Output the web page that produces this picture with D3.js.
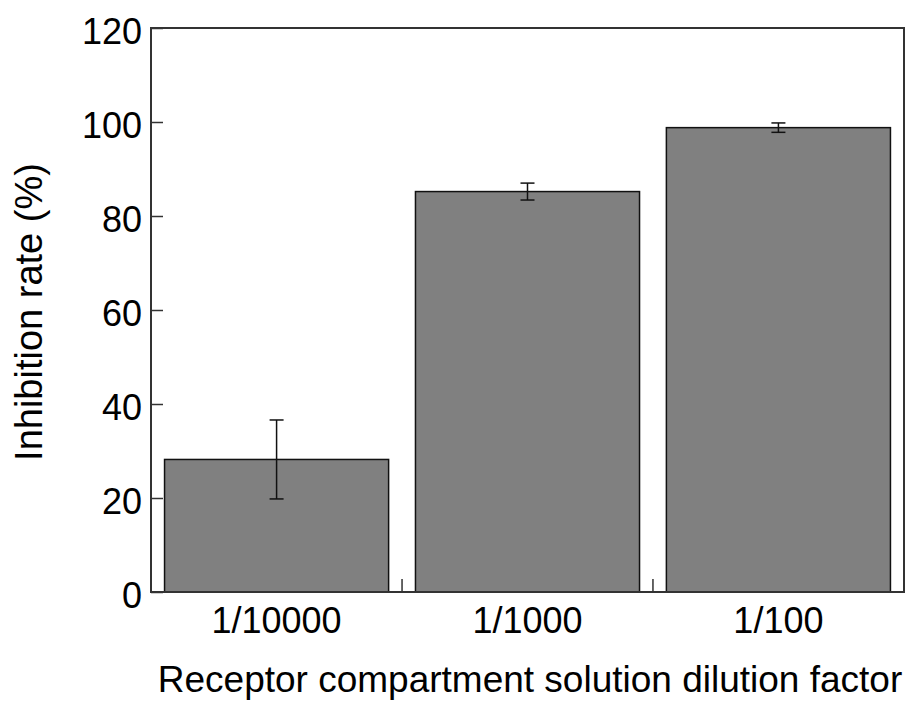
<!DOCTYPE html>
<meta charset="utf-8">
<style>
  body { margin: 0; background: #fff; }
  text { font-family: "Liberation Sans", Arial, Helvetica, sans-serif; fill: #000; }
  .bar { fill: #808080; stroke: #111; stroke-width: 1.5; }
  .err { stroke: #111; stroke-width: 1.5; fill: none; }
  .frame { fill: none; stroke: #333; stroke-width: 2; }
</style>
<body>
<div id="chart"></div>
<script src="https://cdn.jsdelivr.net/npm/d3@7"></script>
<script>
  var categories = ["1/10000", "1/1000", "1/100"],
      values = [28.2, 85.2, 98.8],
      errors = [8.4, 1.8, 1.0],
      yTicks = [0, 20, 40, 60, 80, 100, 120];

  var width = 909, height = 704,
      margin = {top: 28, right: 5, bottom: 112, left: 151},
      w = width - margin.left - margin.right,
      h = height - margin.top - margin.bottom;

  var svg = d3.select("#chart").append("svg")
      .attr("width", width)
      .attr("height", height);

  var g = svg.append("g")
      .attr("transform", "translate(" + margin.left + "," + margin.top + ")");

  var x = d3.scaleBand()
      .domain(categories)
      .range([0, w])
      .paddingInner(0.107)
      .paddingOuter(0.054);

  var y = d3.scaleLinear()
      .domain([0, 120])
      .range([h, 0]);

  // bars
  g.selectAll("rect.bar")
      .data(values)
    .enter().append("rect")
      .attr("class", "bar")
      .attr("x", function(d, i) { return x(categories[i]); })
      .attr("y", function(d) { return y(d); })
      .attr("width", x.bandwidth())
      .attr("height", function(d) { return h - y(d); });

  // error bars
  var eb = g.selectAll("g.eb")
      .data(values)
    .enter().append("g")
      .attr("class", "eb")
      .attr("transform", function(d, i) {
        return "translate(" + (x(categories[i]) + x.bandwidth() / 2) + ",0)";
      });

  eb.append("line").attr("class", "err")
      .attr("x1", 0).attr("x2", 0)
      .attr("y1", function(d, i) { return y(d + errors[i]); })
      .attr("y2", function(d, i) { return y(d - errors[i]); });
  eb.append("line").attr("class", "err")
      .attr("x1", -7).attr("x2", 7)
      .attr("y1", function(d, i) { return y(d + errors[i]); })
      .attr("y2", function(d, i) { return y(d + errors[i]); });
  eb.append("line").attr("class", "err")
      .attr("x1", -7).attr("x2", 7)
      .attr("y1", function(d, i) { return y(d - errors[i]); })
      .attr("y2", function(d, i) { return y(d - errors[i]); });

  // y axis
  var yAxis = g.append("g")
      .call(d3.axisLeft(y).tickValues(yTicks).tickSizeInner(-12).tickSizeOuter(0).tickPadding(9));
  yAxis.select(".domain").remove();
  yAxis.selectAll(".tick line").attr("stroke", "#333").attr("stroke-width", 1.5);
  yAxis.selectAll(".tick text")
      .attr("font-size", 36)
      .attr("dy", "0.42em")
      .attr("font-family", "Liberation Sans, Arial, sans-serif")
      .attr("fill", "#000");

  // x ticks between bands
  var step = x.step();
  var seps = categories.slice(1).map(function(c) { return x(c) - x.paddingInner() * step / 2; });
  g.selectAll("line.sep")
      .data(seps)
    .enter().append("line")
      .attr("stroke", "#333").attr("stroke-width", 1.5)
      .attr("x1", function(d) { return d; }).attr("x2", function(d) { return d; })
      .attr("y1", h).attr("y2", h - 13);

  // x labels
  g.selectAll("text.xl")
      .data(categories)
    .enter().append("text")
      .attr("class", "xl")
      .attr("x", function(d) { return x(d) + x.bandwidth() / 2; })
      .attr("y", h + 41)
      .attr("text-anchor", "middle")
      .attr("font-size", 36)
      .text(function(d) { return d; });

  // frame
  g.append("rect").attr("class", "frame")
      .attr("x", 0).attr("y", 0).attr("width", w).attr("height", h);

  // titles
  svg.append("text")
      .attr("x", 530)
      .attr("y", 692)
      .attr("text-anchor", "middle")
      .attr("font-size", 37)
      .text("Receptor compartment solution dilution factor");

  svg.append("text")
      .attr("transform", "translate(42,312) rotate(-90)")
      .attr("text-anchor", "middle")
      .attr("font-size", 38)
      .text("Inhibition rate (%)");
</script>
</body>
